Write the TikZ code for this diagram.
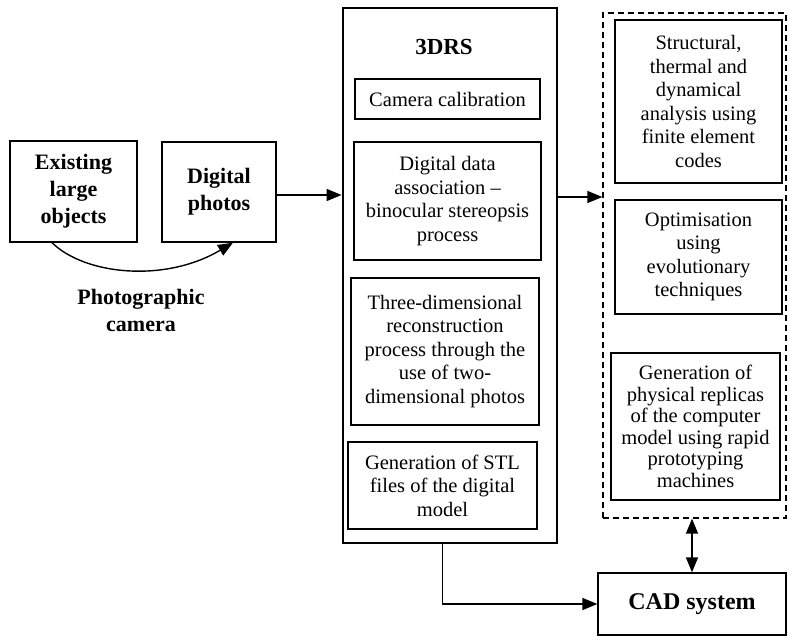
\documentclass[tikz,border=0pt]{standalone}
\usepackage{fontspec}
\setmainfont{Liberation Serif}
\usetikzlibrary{arrows.meta,calc}
\begin{document}
\begin{tikzpicture}[x=1pt,y=-1pt,
  box/.style={draw, line width=1.3pt, align=center, inner sep=0pt},
  body/.style={font=\fontsize{20.5}{23.5}\selectfont},
  bold/.style={font=\fontsize{22}{27}\selectfont\bfseries},
  tip/.style={line width=1.4pt, -{Triangle[length=15pt,width=12pt]}},
  dtip/.style={line width=1.4pt, {Triangle[length=15pt,width=12pt]}-{Triangle[length=15pt,width=12pt]}}]
\useasboundingbox (0,0) rectangle (789,637);
% left boxes
\node[box,bold,minimum width=127pt,minimum height=101pt] (ex) at (73.5,191.5) {Existing\\large\\objects};
\node[box,bold,minimum width=114pt,minimum height=100pt] (ph) at (219,192) {Digital\\photos};
\node[bold,align=center] (cam) at (141,310) {Photographic\\camera};
% 3DRS system box
\node[draw,line width=2.8pt,minimum width=214pt,minimum height=535pt,inner sep=0pt] (sys) at (450,275.5) {};
\node[font=\fontsize{23}{27}\selectfont\bfseries] (title) at (444,47) {3DRS};
\node[box,body,minimum width=185pt,minimum height=40pt] (cal) at (447.5,99) {Camera calibration};
\node[box,body,minimum width=187pt,minimum height=118pt] (dig) at (447.5,201) {Digital data\\association --\\binocular stereopsis\\process};
\node[box,body,minimum width=188pt,minimum height=147pt] (three) at (445,351.5) {Three-dimensional\\reconstruction\\process through the\\use of two-\\dimensional photos};
\node[box,body,minimum width=189pt,minimum height=87pt] (stl) at (442.5,485.5) {Generation of STL\\files of the digital\\model};
% dashed group
\node[draw,dash pattern=on 6pt off 4pt,line width=1.3pt,minimum width=183pt,minimum height=505pt,inner sep=0pt] (grp) at (694.5,265.5) {};
\node[box,body,minimum width=167pt,minimum height=163pt] (fea) at (698.5,101.5) {Structural,\\thermal and\\dynamical\\analysis using\\finite element\\codes};
\node[box,body,minimum width=167pt,minimum height=114pt] (opt) at (698.5,257) {Optimisation\\using\\evolutionary\\techniques};
\node[box,font=\fontsize{20.5}{21.5}\selectfont,minimum width=169pt,minimum height=147pt] (rp) at (695.5,426.5) {Generation of\\physical replicas\\of the computer\\model using rapid\\prototyping\\machines};
% CAD
\node[box,font=\fontsize{24}{28}\selectfont\bfseries,minimum width=188pt,minimum height=62pt] (cad) at (692,604) {CAD system};
% connectors
\draw[tip] ($(ex.south)+(-21.5,0)$) .. controls (85,275) and (165,283) .. ($(ph.south)+(14,0)$);
\draw[tip] (ph.east |- 0,195) -- (sys.west |- 0,195);
\draw[tip] (sys.east |- 0,197) -- (grp.west |- 0,197);
\draw[tip] (sys.south -| stl.south) |- (cad.west);
\draw[dtip] (grp.south -| cad.north) -- (cad.north);
\end{tikzpicture}
\end{document}
